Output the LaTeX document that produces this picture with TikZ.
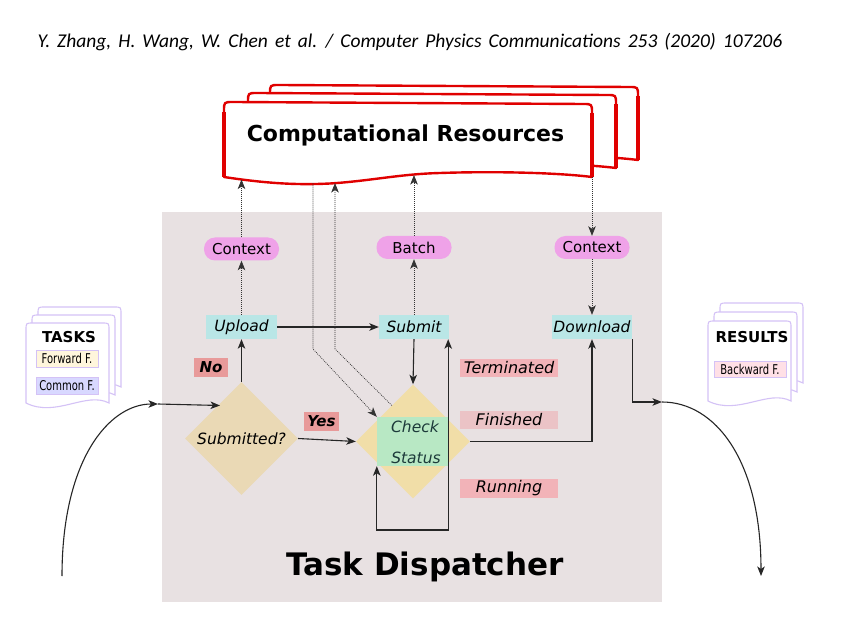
\documentclass[tikz,border=0pt]{standalone}
\usepackage{fontspec}
\setmainfont{DejaVu Sans}
\newfontfamily\hdrfont[WordSpace=1.6]{Carlito}
\usetikzlibrary{shapes.geometric,arrows.meta,calc}
\definecolor{bgc}{HTML}{E8E1E2}
\definecolor{redc}{HTML}{E00000}
\definecolor{pillc}{HTML}{EFA2E8}
\definecolor{cyanc}{HTML}{B9E6E6}
\definecolor{tanc}{HTML}{EAD9B5}
\definecolor{yelc}{HTML}{F1DEA8}
\definecolor{greenc}{HTML}{B8E8C4}
\definecolor{darktag}{HTML}{E89A9A}
\definecolor{tagc}{HTML}{F2B3B8}
\definecolor{lighttag}{HTML}{EBC3C6}
\definecolor{lavc}{HTML}{D4C2F6}
\definecolor{fwdc}{HTML}{FFF6DC}
\definecolor{comc}{HTML}{D8D8FF}
\definecolor{bwdc}{HTML}{FFE0E6}
\definecolor{tealtxt}{HTML}{1C3A3A}
\tikzset{
  x=1pt, y=-1pt,
  arr/.style={-{Stealth[length=9.5pt,width=7.5pt,inset=2.5pt]}},
  arrboth/.style={{Stealth[length=9.5pt,width=7.5pt,inset=2.5pt]}-{Stealth[length=9.5pt,width=7.5pt,inset=2.5pt]}},
  conn/.style={draw=black!85, line width=1.1pt, arr},
  dots/.style={draw=black!80, line width=0.7pt, dash pattern=on 0.9pt off 1.1pt, arr},
  pill/.style={rounded corners=11pt, fill=pillc, minimum width=75pt, minimum height=23pt, inner sep=0pt, font=\fontsize{15}{18}\selectfont},
  actbox/.style={fill=cyanc, minimum height=24pt, inner sep=0pt, font=\fontsize{15.5}{18}\selectfont\itshape},
  tag/.style={fill=tagc, minimum width=98pt, minimum height=18.5pt, inner sep=0pt, font=\fontsize{16}{18}\selectfont\itshape},
  ynlabel/.style={fill=darktag, minimum height=19pt, inner sep=0pt, font=\fontsize{15}{18}\selectfont\bfseries\itshape},
  dmd/.style={diamond, inner sep=0pt, aspect=1},
  doctext/.style={font=\fontsize{15}{18}\selectfont\bfseries},
  smallbox/.style={draw=lavc, line width=0.8pt, minimum width=62pt, minimum height=17pt, inner sep=0pt, font=\fontsize{13.5}{14}\selectfont},
  crline/.style={draw=redc, line width=2.4pt, fill=white, line join=round},
  docline/.style={draw=lavc, line width=1.1pt, fill=white},
}
\newcommand\crshape{%
  (224,177) -- (224,111) .. controls (224,102) .. (233,102) -- (583,104) .. controls (592,104) .. (592,113) -- (592,177)
  .. controls (560,173) and (500,171) .. (440,173) .. controls (400,174) and (370,181) .. (330,183.5)
  .. controls (300,185) and (270,184) .. (224,177) -- cycle}
\newcommand\smalldocshape{%
  (0,80) -- (0,7) .. controls (0,0) .. (7,0) -- (76,0) .. controls (83,0) .. (83,7) -- (83,80)
  .. controls (60,68) and (30,95) .. (0,80) -- cycle}
\newcommand\narrowtxt[1]{\scalebox{0.74}[1]{#1}}
\begin{document}
\begin{tikzpicture}
\useasboundingbox[fill=white] (0,0) rectangle (865,620);
% header
\node[font=\hdrfont\itshape\fontsize{19.5}{22}\selectfont] (hdr) at (410,42) {Y. Zhang, H. Wang, W. Chen et al. / Computer Physics Communications 253 (2020) 107206};
% dispatcher background
\fill[bgc] (162,212) rectangle (662,602);
% computational resources stack
\begin{scope}[shift={(46,-17)}]
  \path[crline] \crshape;
  \draw[redc, line width=3.6pt] (224,177) -- (224,112) (592,113) -- (592,177);
\end{scope}
\begin{scope}[shift={(24,-9)}]
  \path[crline] \crshape;
  \draw[redc, line width=3.6pt] (224,177) -- (224,112) (592,113) -- (592,177);
\end{scope}
\path[crline] \crshape;
\draw[redc, line width=3.6pt] (224,177) -- (224,112) (592,113) -- (592,177);
\node[font=\fontsize{22}{26}\selectfont\bfseries] (cr) at (405.5,135) {Computational Resources};
\coordinate (crA) at (241.5,179.5);
\coordinate (crB) at (313,183.5);
\coordinate (crC) at (335,183);
\coordinate (crD) at (414,175);
\coordinate (crE) at (592,177);
% tasks stack
\foreach \sx/\sy in {38/307, 32/315, 26/323} {
  \begin{scope}[shift={(\sx,\sy)}] \path[docline] \smalldocshape; \end{scope}
}
\node[doctext] (tasks) at (69,337) {TASKS};
\node[smallbox, fill=fwdc] (fwd) at (67,358.5) {\narrowtxt{Forward F.}};
\node[smallbox, fill=comc] (com) at (67,385.5) {\narrowtxt{Common F.}};
% results stack
\foreach \sx/\sy in {720/303, 714/312, 708/321} {
  \begin{scope}[shift={(\sx,\sy)}] \path[docline] \smalldocshape; \end{scope}
}
\node[doctext] (results) at (752,337) {RESULTS};
\node[smallbox, fill=bwdc, minimum width=72pt, minimum height=16pt] (bwd) at (750,369) {\narrowtxt{Backward F.}};
% pills
\node[pill] (ctxL) at (241.5,249) {Context};
\node[pill] (batch) at (414,247.5) {Batch};
\node[pill] (ctxR) at (592,247.5) {Context};
% action boxes
\node[actbox, minimum width=71pt] (upload) at (241.5,327) {Upload};
\node[actbox, minimum width=70pt] (submit) at (414,327) {Submit};
\node[actbox, minimum width=80pt] (download) at (592,327) {Download};
% diamonds
\node[dmd, fill=tanc, minimum width=113pt, minimum height=113pt, font=\fontsize{15.5}{18}\selectfont\itshape] (subq) at (241.5,438.5) {Submitted?};
\node[dmd, fill=yelc, minimum width=114pt, minimum height=114pt] (chk) at (413,441.5) {};
\node[fill=greenc, minimum width=71pt, minimum height=49pt, inner sep=0pt] (status) at (412.5,441.5) {};
\node[text=tealtxt, font=\fontsize{15.5}{18}\selectfont\itshape] (chkt) at (415,427) {Check};
\node[text=tealtxt, font=\fontsize{15.5}{18}\selectfont\itshape] (stat) at (416,458) {Status};
% labels
\node[ynlabel, minimum width=34pt] (no) at (211,367.5) {No};
\node[ynlabel, minimum width=35pt] (yes) at (321.5,421.5) {Yes};
\node[tag] (term) at (509,368) {Terminated};
\node[tag, fill=lighttag] (fin) at (509,420) {Finished};
\node[tag] (run) at (509,488.5) {Running};
\node[font=\fontsize{31}{36}\selectfont\bfseries] (td) at (425,567) {Task Dispatcher};
% solid connectors
\coordinate (tstart) at (62,576);
\coordinate (tin) at (158,404);
\coordinate (tdm) at (220,405.5);
\coordinate (rout) at (662,402);
\coordinate (rend) at (761,576);
\coordinate (loopb) at (0,530);
\draw[conn] (tstart) .. controls (62,460) and (109,404) .. (tin);
\draw[conn] (tin) -- (tdm);
\draw[conn] (subq.north) -- (upload.south);
\draw[conn] (upload.east) -- (submit.west);
\draw[conn] (submit.south) -- (chk.north);
\draw[conn] (subq.east) -- (chk.west);
\draw[conn] (chk.east) -| (download.south);
\draw[conn, arrboth] (status.east |- submit.south) -- (status.east |- loopb) -| (status.south west);
\draw[conn] (download.south east) |- (rout);
\draw[conn] (rout) .. controls (715,402) and (761,460) .. (rend);
% dotted connectors
\draw[dots] (upload.north) -- (ctxL.south);
\draw[dots] (ctxL.north) -- (crA);
\draw[dots] (submit.north) -- (batch.south);
\draw[dots] (batch.north) -- (crD);
\draw[dots] (crE) -- (ctxR.north);
\draw[dots] (ctxR.south) -- (download.north);
\coordinate (bendB) at (313,349);
\coordinate (bendC) at (335,349);
\draw[dots] (crB) -- (bendB) -- (status.north west);
\draw[dots] ($(chk.north)!0.37!(chk.west)$) -- (bendC) -- (crC);
\end{tikzpicture}
\end{document}
